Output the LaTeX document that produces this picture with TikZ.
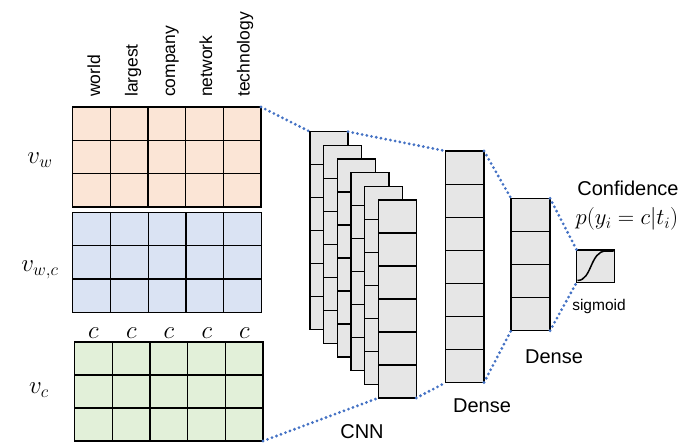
\RequirePackage{fix-cm}
\documentclass[tikz,border=0pt]{standalone}
\usepackage{fontspec}
\newfontfamily\labelfont{Liberation Sans}
\usetikzlibrary{calc}
\definecolor{peach}{HTML}{FBE5D6}
\definecolor{skyb}{HTML}{DAE3F3}
\definecolor{mint}{HTML}{E2F0D9}
\definecolor{cellgray}{HTML}{E6E6E6}
\definecolor{dotblue}{HTML}{4472C4}

% inner grid lines of a block: name, columns, rows
\newcommand\cellgrid[3]{%
  \foreach \k in {1,...,#2}{\ifnum\k<#2
    \draw[gridline] ($(#1.north west)!\k/#2!(#1.north east)$) -- ($(#1.south west)!\k/#2!(#1.south east)$);\fi}
  \foreach \k in {1,...,#3}{\ifnum\k<#3
    \draw[gridline] ($(#1.north west)!\k/#3!(#1.south west)$) -- ($(#1.north east)!\k/#3!(#1.south east)$);\fi}
}

\begin{document}
\begin{tikzpicture}[x=1pt,y=-1pt,
  blk/.style={draw=black, line width=1.1pt, inner sep=0pt, outer sep=0pt, anchor=north west},
  gridline/.style={black, line width=1.1pt},
  link/.style={dotblue, line width=3.1pt, line cap=round, dash pattern=on 0pt off 4.8pt},
  word/.style={font=\labelfont\fontsize{17.5}{20}\selectfont, rotate=90, anchor=base west, inner sep=0pt},
  caption/.style={font=\labelfont\fontsize{20}{22}\selectfont, inner sep=0pt},
  small/.style={font=\labelfont\fontsize{15.5}{18}\selectfont, inner sep=0pt},
  sym/.style={font=\fontsize{25}{27}\selectfont, inner sep=0pt}]
\useasboundingbox (0,0) rectangle (691,444);

% embedding matrices
\node[blk, fill=peach, minimum width=188.3pt, minimum height=100pt] (vw) at (72.7,107) {};
\node[blk, fill=skyb, minimum width=188.8pt, minimum height=99.5pt] (vwc) at (72.7,212.7) {};
\node[blk, fill=mint, minimum width=188.3pt, minimum height=99pt] (vc) at (74.7,342) {};
\cellgrid{vw}{5}{3}
\cellgrid{vwc}{5}{3}
\cellgrid{vc}{5}{3}

% column words
\node[word] (w1) at (100,97) {world};
\node[word] (w2) at (137.5,97) {largest};
\node[word] (w3) at (175,97) {company};
\node[word] (w4) at (212,97) {network};
\node[word] (w5) at (249.5,97) {technology};

% character labels
\foreach \i/\xx in {1/93.5,2/131.3,3/169,4/206.8,5/244.4}
  \node[sym] (c\i) at (\xx,333) {$c$};

% row labels
\node[sym] (lw) at (40,160) {$v_w$};
\node[sym] (lwc) at (40,270) {$v_{w,c}$};
\node[sym] (lc) at (39,390) {$v_c$};

% convolution feature maps
\foreach \i in {0,...,5}{
  \node[blk, fill=cellgray, minimum width=38pt, minimum height=198pt] (L\i) at ({310+13.65*\i},{131.7+13.66*\i}) {};
  \cellgrid{L\i}{1}{6}
}
\node[caption] (cnn) at (362,432) {CNN};

% dense layers
\node[blk, fill=cellgray, minimum width=38.3pt, minimum height=231.5pt] (d1) at (445.7,151) {};
\cellgrid{d1}{1}{7}
\node[caption] (d1lab) at (482,406) {Dense};
\node[blk, fill=cellgray, minimum width=39pt, minimum height=132.4pt] (d2) at (511,198.3) {};
\cellgrid{d2}{1}{4}
\node[caption] (d2lab) at (554,357) {Dense};

% sigmoid output
\node[blk, fill=cellgray, minimum width=37.6pt, minimum height=32.3pt] (sg) at (576.7,250) {};
\draw[line width=1.5pt] (577.5,280.5) .. controls (592,280.5) and (590,251) .. (606,251) -- (613.5,251);
\node[small] (sglab) at (599,306) {sigmoid};
\node[caption] (conf) at (628,188.5) {Confidence};
\node[sym, font=\fontsize{22.7}{25}\selectfont] (prob) at (627,219) {$p(y_i=c|t_i)$};

% dotted projections
\draw[link] (vw.north east) -- (L0.north west);
\draw[link] (vc.south east) -- (L5.south west);
\draw[link] (L0.north east) -- (d1.north west);
\draw[link] (L5.south east) -- (d1.south west);
\draw[link] (d1.north east) -- (d2.north west);
\draw[link] (d1.south east) -- (d2.south west);
\draw[link] (d2.north east) -- (sg.north west);
\draw[link] (d2.south east) -- (sg.south west);
\end{tikzpicture}
\end{document}
